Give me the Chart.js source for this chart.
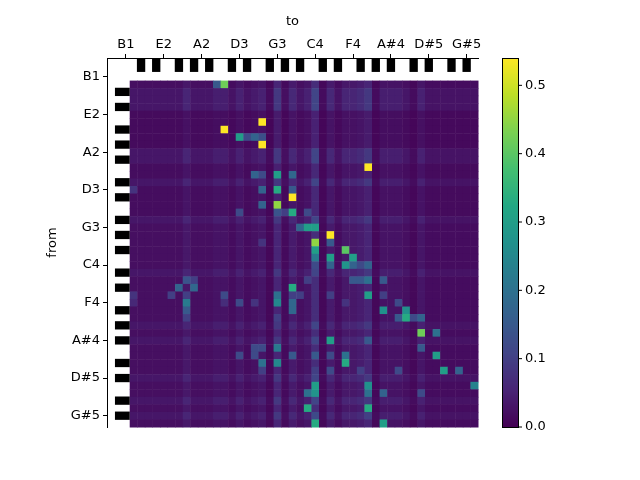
<!DOCTYPE html>
<html>
<head>
<meta charset="utf-8">
<script src="https://cdn.jsdelivr.net/npm/chart.js@4.4.1/dist/chart.umd.min.js"></script>
<style>
  body { margin: 0; background: #fff; }
  #wrap { width: 640px; height: 480px; }
</style>
</head>
<body>
<div id="wrap"><canvas id="c" width="640" height="480"></canvas></div>
<script>
// Note names for tick labels (every 5 semitones from B1)
const tickNotes = [0, 5, 10, 15, 20, 25, 30, 35, 40, 45];
const tickLabels = ['B1', 'E2', 'A2', 'D3', 'G3', 'C4', 'F4', 'A#4', 'D#5', 'G#5'];
// Black key offsets relative to B1 (C#, D#, F#, G#, A#)
const blackKeys = [2, 4, 7, 9, 11];

// Faint per-column background level ("to" note), 46 columns
const colBase = [0.03, 0.03, 0.03, 0.03, 0.03, 0.03, 0.03, 0.05, 0.03, 0.03,
  0.03, 0.04, 0.04, 0.025, 0.045, 0.025, 0.035, 0.045, 0.015, 0.08,
  0.02, 0.055, 0.03, 0.045, 0.10, 0.015, 0.055, 0.025, 0.05, 0.05,
  0.06, 0.08, 0.015, 0.04, 0.04, 0.04, 0.03, 0.015, 0.045, 0.025,
  0.025, 0.025, 0.025, 0.025, 0.025, 0.025];
// Per-row scale of that background ("from" note)
const rowScale = [0.7, 1.1, 1.1, 1.1, 0.5, 0.5, 0.5, 0.5, 0.5, 1.1,
  1.1, 0.6, 0.6, 1.1, 0.6, 0.6, 0.6, 0.6, 1.1, 0.7,
  0.7, 0.7, 0.7, 0.7, 0.7, 1.1, 0.7, 0.7, 0.7, 0.7,
  0.7, 0.7, 1.1, 0.7, 1.1, 0.7, 0.7, 0.7, 0.7, 1.1,
  0.7, 0.7, 1.1, 0.7, 1.1, 0.7];
// Stand-out transitions: [row, col, probability]
const peaks = [
  [0, 11, 0.15], [0, 12, 0.42],
  [5, 17, 0.54], [6, 12, 0.54],
  [7, 14, 0.30], [7, 15, 0.12], [7, 16, 0.17], [7, 17, 0.13],
  [8, 17, 0.54],
  [11, 31, 0.54],
  [12, 16, 0.17], [12, 17, 0.12], [12, 19, 0.30], [12, 21, 0.18],
  [14, 0, 0.08], [14, 17, 0.17], [14, 19, 0.33], [14, 21, 0.15],
  [15, 21, 0.54],
  [16, 17, 0.17], [16, 19, 0.45],
  [17, 14, 0.12], [17, 19, 0.14], [17, 20, 0.10], [17, 21, 0.33], [17, 23, 0.12],
  [19, 22, 0.18], [19, 23, 0.30], [19, 24, 0.30],
  [20, 26, 0.54],
  [21, 17, 0.08], [21, 24, 0.45], [21, 26, 0.15],
  [22, 24, 0.30], [22, 28, 0.40],
  [23, 24, 0.22], [23, 26, 0.30], [23, 29, 0.30],
  [24, 24, 0.12], [24, 26, 0.17], [24, 28, 0.28], [24, 29, 0.17], [24, 30, 0.12], [24, 31, 0.17],
  [26, 7, 0.14], [26, 8, 0.10], [26, 23, 0.10], [26, 29, 0.15], [26, 30, 0.15], [26, 31, 0.20], [26, 33, 0.15],
  [27, 6, 0.17], [27, 8, 0.18], [27, 21, 0.33],
  [28, 0, 0.08], [28, 5, 0.10], [28, 7, 0.10], [28, 12, 0.12], [28, 19, 0.20], [28, 21, 0.10],
  [28, 22, 0.10], [28, 26, 0.10], [28, 31, 0.30], [28, 33, 0.10],
  [29, 0, 0.06], [29, 7, 0.22], [29, 12, 0.07], [29, 14, 0.12], [29, 16, 0.08], [29, 19, 0.25],
  [29, 21, 0.18], [29, 28, 0.08], [29, 35, 0.12],
  [30, 7, 0.15], [30, 21, 0.18], [30, 33, 0.27], [30, 36, 0.27],
  [31, 7, 0.10], [31, 19, 0.10], [31, 35, 0.15], [31, 36, 0.33], [31, 37, 0.12], [31, 38, 0.17],
  [33, 38, 0.42], [33, 40, 0.20],
  [34, 26, 0.30], [34, 31, 0.15],
  [35, 16, 0.12], [35, 17, 0.12], [35, 19, 0.22], [35, 38, 0.15],
  [36, 14, 0.12], [36, 16, 0.12], [36, 21, 0.15], [36, 24, 0.15], [36, 26, 0.12], [36, 28, 0.20], [36, 40, 0.30],
  [37, 17, 0.20], [37, 19, 0.25], [37, 28, 0.33],
  [38, 17, 0.10], [38, 24, 0.10], [38, 26, 0.12], [38, 30, 0.10], [38, 35, 0.12], [38, 41, 0.30], [38, 43, 0.17],
  [40, 24, 0.30], [40, 31, 0.27], [40, 45, 0.24],
  [41, 23, 0.20], [41, 24, 0.28], [41, 31, 0.20], [41, 33, 0.17], [41, 38, 0.12],
  [43, 23, 0.33], [43, 31, 0.33],
  [44, 24, 0.12], [44, 31, 0.10],
  [45, 24, 0.33], [45, 33, 0.30]
];
const vmax = 0.54;
const nNotes = 46;

// Build the matrix from the arrays above
const matrix = rowScale.map(rs => colBase.map(cb => cb * rs));
peaks.forEach(([r, c, v]) => { matrix[r][c] = v; });

const viridis = ['#440154', '#482475', '#414487', '#355f8d', '#2a788e', '#21918c',
  '#22a884', '#44bf70', '#7ad151', '#bddf26', '#fde725'];
function hex(h) { return [1, 3, 5].map(i => parseInt(h.substr(i, 2), 16)); }
function cmap(v) {
  let t = Math.max(0, Math.min(1, v / vmax)) * 10;
  const i = Math.min(9, Math.floor(t));
  const f = t - i;
  const a = hex(viridis[i]), b = hex(viridis[i + 1]);
  return 'rgb(' + a.map((x, k) => Math.round(x + (b[k] - x) * f)).join(',') + ')';
}

const heatmap = {
  id: 'heatmap',
  beforeDatasetsDraw(chart) {
    const ctx = chart.ctx;
    const xs = chart.scales.x, ys = chart.scales.y;
    // cells: note index = col + 1
    for (let r = 0; r < nNotes; r++) {
      for (let c = 0; c < nNotes; c++) {
        const x0 = xs.getPixelForValue(c + 0.5), x1 = xs.getPixelForValue(c + 1.5);
        const y0 = ys.getPixelForValue(r + 0.5), y1 = ys.getPixelForValue(r + 1.5);
        ctx.fillStyle = cmap(matrix[r][c]);
        ctx.fillRect(x0, y0, x1 - x0 + 0.5, y1 - y0 + 0.5);
      }
    }
    // piano keys
    ctx.fillStyle = '#000';
    for (let n = 0; n <= nNotes; n++) {
      if (!blackKeys.includes(n % 12)) continue;
      const a = xs.getPixelForValue(n - 0.55), b = xs.getPixelForValue(n + 0.55);
      ctx.fillRect(a, ys.getPixelForValue(-2.5), b - a, ys.getPixelForValue(-0.65) - ys.getPixelForValue(-2.5));
      const ya = ys.getPixelForValue(n - 0.55), yb = ys.getPixelForValue(n + 0.55);
      const la = xs.getPixelForValue(-1.45);
      ctx.fillRect(la, ya, xs.getPixelForValue(0.5) - la, yb - ya);
    }
  },
  afterDraw(chart) {
    const ctx = chart.ctx;
    const area = chart.chartArea;
    // axis titles
    ctx.fillStyle = '#000';
    ctx.font = '13px "DejaVu Sans"';
    ctx.textAlign = 'center';
    ctx.textBaseline = 'middle';
    ctx.fillText('to', (area.left + area.right) / 2, 22);
    ctx.save();
    ctx.translate(53, (area.top + area.bottom) / 2);
    ctx.rotate(-Math.PI / 2);
    ctx.fillText('from', 0, 0);
    ctx.restore();
    // colorbar
    const top = area.top, bot = area.bottom;
    const left = 502, w = 16;
    for (let y = top; y < bot; y++) {
      ctx.fillStyle = cmap(vmax * (bot - y - 0.5) / (bot - top));
      ctx.fillRect(left, y, w, 1.2);
    }
    ctx.strokeStyle = '#000';
    ctx.lineWidth = 1;
    ctx.strokeRect(left + 0.5, top + 0.5, w, bot - top);
    ctx.fillStyle = '#000';
    ctx.font = '13px "DejaVu Sans"';
    ctx.textAlign = 'left';
    for (let k = 0; k <= 5; k++) {
      const v = k / 10;
      const y = bot - (bot - top) * v / vmax;
      ctx.beginPath();
      ctx.moveTo(left + w, y); ctx.lineTo(left + w + 4, y); ctx.stroke();
      ctx.fillText(v.toFixed(1), left + w + 7, y);
    }
  }
};

function fixedTicks(scale) {
  scale.ticks = tickNotes.map(v => ({ value: v }));
}

new Chart(document.getElementById('c'), {
  type: 'scatter',
  data: { datasets: [{ data: [] }] },
  options: {
    responsive: false,
    animation: false,
    layout: { padding: { left: 0, right: 162, top: 0, bottom: 53 } },
    plugins: { legend: { display: false }, tooltip: { enabled: false } },
    scales: {
      x: {
        type: 'linear', position: 'top', min: -2.5, max: 46.5,
        afterBuildTicks: fixedTicks,
        afterFit(s) { s.height = 58; },
        grid: { drawOnChartArea: false, color: '#000', tickLength: 4 },
        border: { color: '#000' },
        ticks: { color: '#000', font: { family: 'DejaVu Sans', size: 13 }, maxRotation: 0, padding: 2,
          callback: v => tickLabels[tickNotes.indexOf(v)] }
      },
      y: {
        type: 'linear', reverse: true, min: -2.5, max: 46.5,
        afterBuildTicks: fixedTicks,
        afterFit(s) { s.width = 107; },
        grid: { drawOnChartArea: false, color: '#000', tickLength: 4 },
        border: { color: '#000' },
        ticks: { color: '#000', font: { family: 'DejaVu Sans', size: 13 }, padding: 3,
          callback: v => tickLabels[tickNotes.indexOf(v)] }
      }
    }
  },
  plugins: [heatmap]
});
</script>
</body>
</html>
